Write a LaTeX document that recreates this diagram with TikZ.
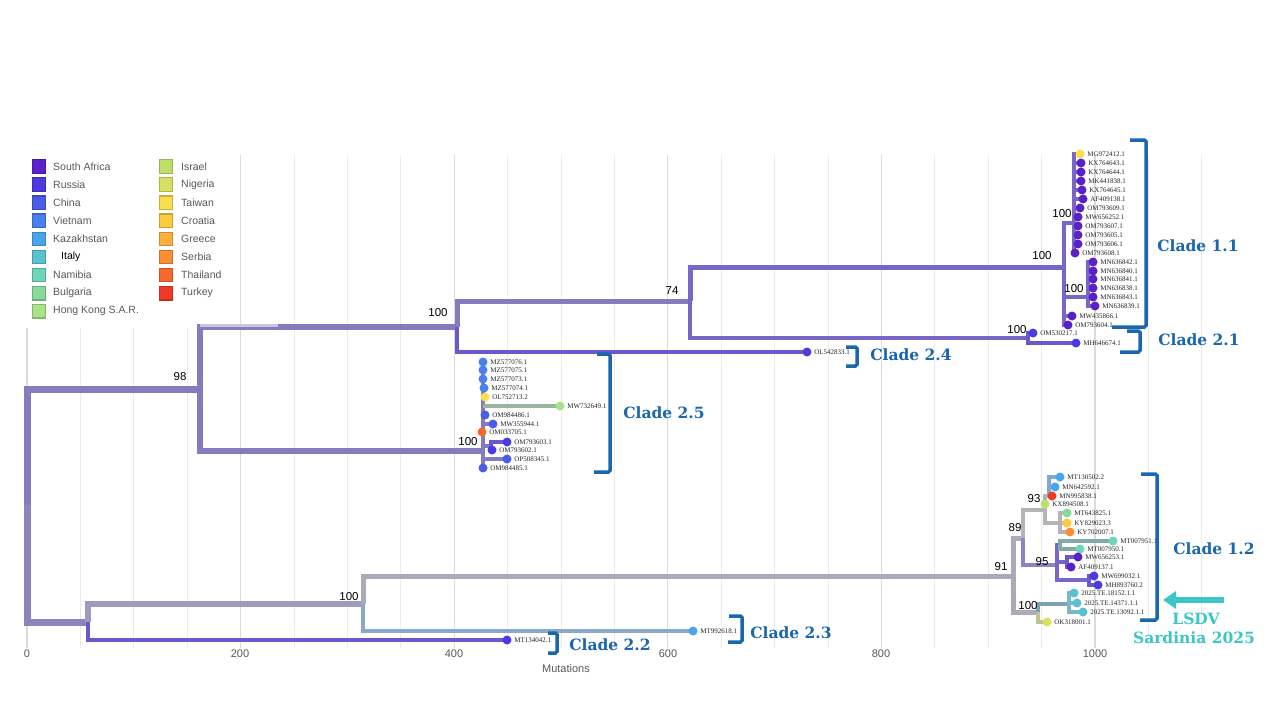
\documentclass[tikz,border=0pt]{standalone}
\usepackage{fontspec}
\setmainfont{Liberation Sans}
\newfontfamily\leaffont{Liberation Serif}
\newfontfamily\cladefont{DejaVu Serif}
\usetikzlibrary{arrows.meta}
\pgfdeclarelayer{gridlayer}
\pgfdeclarelayer{branchlayer}
\pgfsetlayers{gridlayer,branchlayer,main}
\definecolor{cSA}{HTML}{5B21C9}
\definecolor{cRU}{HTML}{4B3BE0}
\definecolor{cCN}{HTML}{4A5CE8}
\definecolor{cVN}{HTML}{4A80EE}
\definecolor{cKZ}{HTML}{4BA5EC}
\definecolor{cIT}{HTML}{5BC0D0}
\definecolor{cNA}{HTML}{6ED6B8}
\definecolor{cBG}{HTML}{86DB97}
\definecolor{cHK}{HTML}{A8E487}
\definecolor{cIL}{HTML}{BCE06A}
\definecolor{cNG}{HTML}{D7E060}
\definecolor{cTW}{HTML}{F8DE4A}
\definecolor{cHR}{HTML}{FBCC3E}
\definecolor{cGR}{HTML}{FDAF3E}
\definecolor{cRS}{HTML}{FC8E34}
\definecolor{cTH}{HTML}{F8682A}
\definecolor{cTR}{HTML}{F03A28}
\definecolor{cladeblue}{HTML}{1A67AE}
\definecolor{sardcol}{HTML}{3CC6C8}
\definecolor{bPur}{HTML}{857BBF}
\definecolor{bPurD}{HTML}{7A66C8}
\definecolor{bLeafP}{HTML}{6A58CC}
\definecolor{bGrayP}{HTML}{9A94BE}
\definecolor{bGray}{HTML}{ABAAB9}
\definecolor{bGray2}{HTML}{B3B3B8}
\newcommand\leaf[5]{\node[dot,fill=#4] (#1) at (#2,#3) {};\node[leaflab] (#1-t) at ([xshift=2.5pt]#1.east) {#5};}
\begin{document}
\begin{tikzpicture}[x=1pt,y=-1pt,
  dot/.style={circle,inner sep=0pt,minimum size=9pt,draw=none},
  leaflab/.style={anchor=west,inner sep=0pt,font=\leaffont\fontsize{7}{7}\selectfont,text=black!85},
  boot/.style={font=\fontsize{11.5}{12}\selectfont,text=black,inner sep=0pt},
  tick/.style={font=\fontsize{11}{12}\selectfont,text=black!65,inner sep=0pt},
  legtxt/.style={anchor=west,font=\fontsize{10.5}{12}\selectfont,text=black!65,inner sep=0pt},
  legsq/.style={minimum size=13.5pt,inner sep=0pt,line width=1.2pt},
  gridminor/.style={draw=black!8,line width=0.8pt},
  gridmajor/.style={draw=black!14,line width=1.2pt},
  branch/.style={line join=miter},
  w7/.style={branch,line width=7pt},
  w6/.style={branch,line width=6pt},
  w5/.style={branch,line width=5pt},
  w4/.style={branch,line width=4pt},
  w3/.style={branch,line width=3.2pt},
  bracket/.style={draw=cladeblue,line width=3.5pt,rounded corners=1.5pt},
  cladetxt/.style={font=\cladefont\bfseries\fontsize{15.5}{18}\selectfont,text=cladeblue,inner sep=0pt},
]
\useasboundingbox (0,0) rectangle (1280,720);

% ---------- background and grid ----------
\begin{pgfonlayer}{gridlayer}
\fill[white] (0,0) rectangle (1280,720);
\foreach \i in {0,...,22} {
  \pgfmathsetmacro\xx{27+\i*53.4}
  \draw[gridminor] (\xx,155) -- (\xx,648);
}
\foreach \i in {0,...,5} {
  \pgfmathsetmacro\xx{27+\i*213.6}
  \draw[gridmajor] (\xx,155) -- (\xx,648);
}
\fill[white] (20,150) rectangle (237,328);
\end{pgfonlayer}

% axis labels
\node[tick] (t0) at (27,654) {0};
\node[tick] (t200) at (240,654) {200};
\node[tick] (t400) at (454,654) {400};
\node[tick] (t600) at (668,654) {600};
\node[tick] (t800) at (881,654) {800};
\node[tick] (t1000) at (1095,654) {1000};
\node[tick] (axname) at (566,669) {Mutations};

% ---------- legend ----------
\foreach \c/\t [count=\k from 0] in {cSA/South Africa,cRU/Russia,cCN/China,cVN/Vietnam,cKZ/Kazakhstan,cIT/,cNA/Namibia,cBG/Bulgaria,cHK/Hong Kong S.A.R.} {
  \node[legsq,fill=\c,draw=\c!80!black] (lsqL\k) at (39,166.5+\k*18.1) {};
  \node[legtxt] (ltL\k) at (53,166.5+\k*18.1) {\t};
}
\node[legtxt,text=black] (ltItaly) at (61,257) {Italy};
\foreach \c/\t [count=\k from 0] in {cIL/Israel,cNG/Nigeria,cTW/Taiwan,cHR/Croatia,cGR/Greece,cRS/Serbia,cTH/Thailand,cTR/Turkey} {
  \node[legsq,fill=\c,draw=\c!80!black] (lsqR\k) at (166,166.5+\k*18.1) {};
  \node[legtxt] (ltR\k) at (181,166.5+\k*18.1) {\t};
}

% ---------- internal nodes ----------
\coordinate (root) at (27,505);
\coordinate (n98) at (200,389);
\coordinate (nA) at (457,327);
\coordinate (n74) at (690,301);
\coordinate (n11) at (1064,267);
\coordinate (n11a) at (1074,223);
\coordinate (n11b) at (1088,297);
\coordinate (n21) at (1028,338);
\coordinate (n25) at (483,451);
\coordinate (n25a) at (491,446);
\coordinate (nB) at (88,622);
\coordinate (nC) at (363,604);
\coordinate (n91) at (1013,576);
\coordinate (n89) at (1023,538);
\coordinate (n93) at (1045,510);
\coordinate (n93a) at (1049,496);
\coordinate (n93b) at (1060,523);
\coordinate (n95) at (1057,565);
\coordinate (n95x) at (1060,545);
\coordinate (n95b) at (1067,562);
\coordinate (n95c) at (1089,580);
\coordinate (n100c) at (1038,612);
\coordinate (nIt) at (1069,604);

% ---------- leaves ----------
% clade 1.1
\leaf{a1}{1080}{154}{cTW}{MG972412.1}
\leaf{a2}{1081}{163}{cSA}{KX764643.1}
\leaf{a3}{1081}{172}{cSA}{KX764644.1}
\leaf{a4}{1081}{181}{cSA}{MK441838.1}
\leaf{a5}{1082}{190}{cSA}{KX764645.1}
\leaf{a6}{1083}{199}{cSA}{AF409138.1}
\leaf{a7}{1080}{208}{cSA}{OM793609.1}
\leaf{a8}{1078}{217}{cSA}{MW656252.1}
\leaf{a9}{1078}{226}{cSA}{OM793607.1}
\leaf{a10}{1078}{235}{cSA}{OM793605.1}
\leaf{a11}{1078}{244}{cSA}{OM793606.1}
\leaf{a12}{1075}{253}{cSA}{OM793608.1}
\leaf{b1}{1093}{262}{cSA}{MN636842.1}
\leaf{b2}{1093}{271}{cSA}{MN636840.1}
\leaf{b3}{1093}{279}{cSA}{MN636841.1}
\leaf{b4}{1093}{288}{cSA}{MN636838.1}
\leaf{b5}{1093}{297}{cSA}{MN636843.1}
\leaf{b6}{1095}{306}{cSA}{MN636839.1}
\leaf{c1}{1072}{316}{cSA}{MW435866.1}
\leaf{c2}{1068}{325}{cSA}{OM793604.1}
% clade 2.1
\leaf{d1}{1033}{333}{cRU}{OM530217.1}
\leaf{d2}{1076}{343}{cRU}{MH646674.1}
% clade 2.4
\leaf{e1}{807}{352}{cRU}{OL542833.1}
% clade 2.5
\leaf{f1}{483}{362}{cVN}{MZ577076.1}
\leaf{f2}{483}{370}{cVN}{MZ577075.1}
\leaf{f3}{483}{379}{cVN}{MZ577073.1}
\leaf{f4}{484}{388}{cVN}{MZ577074.1}
\leaf{f5}{485}{397}{cTW}{OL752713.2}
\leaf{f6}{560}{406}{cHK}{MW732649.1}
\leaf{f7}{485}{415}{cCN}{OM984486.1}
\leaf{f8}{493}{424}{cCN}{MW355944.1}
\leaf{f9}{482}{432}{cTH}{OM033705.1}
\leaf{f10}{507}{442}{cRU}{OM793603.1}
\leaf{f11}{492}{450}{cRU}{OM793602.1}
\leaf{f12}{507}{459}{cCN}{OP508345.1}
\leaf{f13}{483}{468}{cCN}{OM984485.1}
% clade 1.2
\leaf{g1}{1060}{477}{cKZ}{MT130502.2}
\leaf{g2}{1055}{487}{cKZ}{MN642592.1}
\leaf{g3}{1052}{496}{cTR}{MN995838.1}
\leaf{g4}{1045}{504}{cIL}{KX894508.1}
\leaf{g5}{1067}{513}{cBG}{MT643825.1}
\leaf{g6}{1067}{523}{cHR}{KY829023.3}
\leaf{g7}{1070}{532}{cRS}{KY702007.1}
\leaf{g8}{1113}{541}{cNA}{MT007951.1}
\leaf{g9}{1080}{549}{cNA}{MT007950.1}
\leaf{g10}{1078}{557}{cSA}{MW656253.1}
\leaf{g11}{1071}{567}{cSA}{AF409137.1}
\leaf{g12}{1094}{576}{cRU}{MW699032.1}
\leaf{g13}{1098}{585}{cRU}{MH893760.2}
\leaf{g14}{1074}{593}{cIT}{2025.TE.18152.1.1}
\leaf{g15}{1077}{603}{cIT}{2025.TE.14371.1.1}
\leaf{g16}{1083}{612}{cIT}{2025.TE.13092.1.1}
\leaf{g17}{1047}{622}{cNG}{OK318001.1}
% clades 2.3, 2.2
\leaf{h1}{693}{631}{cKZ}{MT992618.1}
\leaf{h2}{507}{640}{cRU}{MT134042.1}

% ---------- branches ----------
\begin{pgfonlayer}{branchlayer}
\draw[w7,draw=bPur] (root) |- (n98);
\draw[w7,draw=bPur!80!bGray] (root) |- (nB);
\draw[w6,draw=bPur] (n98) |- (nA);
\draw[w6,draw=bPur] (n98) |- (n25);
\draw[line width=2.2pt,draw=bPur!45!white] (200,325.5) -- (278,325.5);
\draw[w5,draw=bPur] (nA) |- (n74);
\draw[w3,draw=bLeafP] (nA) |- (e1.center);
\draw[w5,draw=bPurD] (n74) |- (n11);
\draw[w4,draw=bPurD] (n74) |- (n21);
\draw[w3,draw=bLeafP] (n21) |- (d1.center);
\draw[w3,draw=bLeafP] (n21) |- (d2.center);
\draw[w4,draw=bPurD] (n11) |- (n11a);
\draw[w4,draw=bPurD] (n11) |- (n11b);
\draw[w4,draw=bPurD] (n11) |- (c1.center);
\draw[w4,draw=bPurD] (n11) |- (c2.center);
\foreach \l in {a1,a2,a3,a4,a5,a6,a7,a8,a9,a10,a11,a12}
  \draw[w4,draw=bPurD] (n11a) |- (\l.center);
\foreach \l in {b1,b2,b3,b4,b5,b6}
  \draw[w4,draw=bPurD] (n11b) |- (\l.center);
% clade 2.5
\foreach \l in {f1,f2,f3,f4,f5,f6,f7,f8,f9,f12,f13}
  \draw[w4,draw=bPur] (n25) |- (\l.center);
\draw[w4,draw=cHK!55!bPur] (f6.center -| n25) -- (f6.center);
\draw[w4,draw=bPur] (n25) |- (n25a);
\draw[w3,draw=bLeafP] (n25a) |- (f10.center);
\draw[w3,draw=bLeafP] (n25a) |- (f11.center);
% bottom
\draw[w3,draw=bLeafP] (nB) |- (h2.center);
\draw[w6,draw=bGrayP!70!bGray] (nB) |- (nC);
\draw[w5,draw=bGray] (nC) |- (n91);
\draw[w4,draw=cKZ!35!bGray] (nC) |- (h1.center);
\draw[w5,draw=bGray] (n91) |- (n89);
\draw[w5,draw=bGray] (n91) |- (n100c);
\draw[w4,draw=bGray2] (n89) |- (n93);
\draw[w4,draw=bGrayP!60!bPurD] (n89) |- (n95);
\draw[w4,draw=bGray2] (n93) |- (g4.center);
\draw[w4,draw=bGray2] (n93) |- (n93a);
\draw[w4,draw=bGray2] (n93) |- (n93b);
\foreach \l in {g1,g2,g3}
  \draw[w3,draw=cKZ!45!bGray] (n93a) |- (\l.center);
\foreach \l in {g5,g6,g7}
  \draw[w3,draw=bGray2] (n93b) |- (\l.center);
\draw[w4,draw=bPurD] (n95) |- (n95x);
\draw[w4,draw=bPurD] (n95) |- (n95b);
\draw[w4,draw=bPurD] (n95) |- (n95c);
\foreach \l in {g8,g9}
  \draw[w3,draw=cNA!45!bGray!90!black] (n95x) |- (\l.center);
\foreach \l in {g10,g11}
  \draw[w3,draw=bLeafP] (n95b) |- (\l.center);
\foreach \l in {g12,g13}
  \draw[w3,draw=bLeafP] (n95c) |- (\l.center);
\draw[w4,draw=cIT!40!bGray!90!black] (n100c) |- (nIt);
\draw[w3,draw=cNG!45!bGray] (n100c) |- (g17.center);
\foreach \l in {g14,g15,g16}
  \draw[w3,draw=cIT!60!bGray] (nIt) |- (\l.center);
\end{pgfonlayer}

% ---------- bootstrap values ----------
\node[boot] (bs98) at (180,377) {98};
\node[boot] (bsA) at (438,313) {100};
\node[boot] (bs74) at (672,291) {74};
\node[boot] (bs11) at (1042,256) {100};
\node[boot] (bs11a) at (1062,214) {100};
\node[boot] (bs11b) at (1074,289) {100};
\node[boot] (bs21) at (1017,330) {100};
\node[boot] (bs25) at (468,442) {100};
\node[boot] (bsC) at (349,597) {100};
\node[boot] (bs91) at (1001,567) {91};
\node[boot] (bs89) at (1015,528) {89};
\node[boot] (bs93) at (1034,499) {93};
\node[boot] (bs95) at (1042,562) {95};
\node[boot] (bs100c) at (1028,606) {100};

% ---------- clade brackets and labels ----------
\draw[bracket] (1130,140) -- (1146,140) -- (1146,327) -- (1112,327);
\draw[bracket] (1127,331) -- (1140,331) -- (1140,352) -- (1120,352);
\draw[bracket] (846,347) -- (857,347) -- (857,366) -- (846,366);
\draw[bracket] (597,354) -- (610,354) -- (610,472) -- (594,472);
\draw[bracket] (1141,474) -- (1157,474) -- (1157,620) -- (1140,620);
\draw[bracket] (548,633) -- (557,633) -- (557,653) -- (548,653);
\draw[bracket] (729,616) -- (742,616) -- (742,642) -- (728,642);
\node[cladetxt] (cl11) at (1198,246) {Clade 1.1};
\node[cladetxt] (cl21) at (1199,340) {Clade 2.1};
\node[cladetxt] (cl24) at (911,355) {Clade 2.4};
\node[cladetxt] (cl25) at (664,413) {Clade 2.5};
\node[cladetxt] (cl12) at (1214,549) {Clade 1.2};
\node[cladetxt] (cl22) at (610,645) {Clade 2.2};
\node[cladetxt] (cl23) at (791,633) {Clade 2.3};
\node[cladetxt,text=sardcol] (lsdv) at (1196,619) {LSDV};
\node[cladetxt,text=sardcol] (sard) at (1194,638) {Sardinia 2025};
\coordinate (arrS) at (1224,600);
\coordinate (arrE) at (1163,600);
\draw[line width=6pt,draw=sardcol,-{Triangle[length=13pt,width=17pt]}] (arrS) -- (arrE);
\end{tikzpicture}
\end{document}
